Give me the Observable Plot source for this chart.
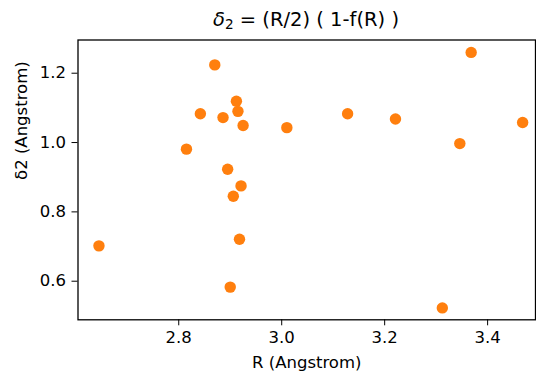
<!DOCTYPE html>
<html>
<head>
<meta charset="utf-8">
<script src="https://cdn.jsdelivr.net/npm/d3@7"></script>
<script src="https://cdn.jsdelivr.net/npm/@observablehq/plot@0.6"></script>
<style>
  html, body { margin: 0; padding: 0; background: #fff; }
  #wrap { position: relative; width: 536px; font-family: "DejaVu Sans", sans-serif; }
  #title { position: relative; height: 35px; width: 536px; }
  #title span { position: absolute; left: 306px; top: 10px; transform: translateX(-50%); font-size: 19.5px; line-height: 1; white-space: nowrap; color: #000; }
  #title i { font-family: "DejaVu Sans", sans-serif; font-style: italic; }
  #title sub { font-size: 0.7em; vertical-align: -0.25em; }
</style>
</head>
<body>
<div id="wrap">
  <div id="title"><span><i>δ</i><sub>2</sub> = (R/2) ( 1-f(R) )</span></div>
  <div id="chart"></div>
</div>
<script>
// Data
const R = [2.645, 2.815, 2.842, 2.870, 2.886, 2.912, 2.915, 2.925, 2.895, 2.921,
           2.906, 2.918, 2.900, 3.010, 3.128, 3.221, 3.368, 3.346, 3.468, 3.312];
const delta2 = [0.702, 0.981, 1.083, 1.224, 1.072, 1.119, 1.090, 1.049, 0.923, 0.875,
                0.845, 0.721, 0.583, 1.043, 1.083, 1.068, 1.260, 0.997, 1.058, 0.523];
const xTicks = [2.8, 3.0, 3.2, 3.4];
const yTicks = [0.6, 0.8, 1.0, 1.2];
const xLabel = "R (Angstrom)";
const yLabel = "δ2 (Angstrom)";

const data = R.map((r, i) => ({R: r, d: delta2[i]}));

const chart = Plot.plot({
  width: 536,
  height: 340,
  marginLeft: 77.5,
  marginRight: 1,
  marginTop: 4.5,
  marginBottom: 55.7,
  style: {fontFamily: "DejaVu Sans, sans-serif", fontSize: "16.5px", color: "#000", background: "#fff"},
  x: {domain: [2.6043, 3.493]},
  y: {domain: [0.4887, 1.2958]},
  marks: [
    Plot.dot(data, {x: "R", y: "d", r: 5.7, fill: "#ff7f0e", stroke: "none"}),
    Plot.frame({stroke: "#000", strokeWidth: 1.3}),
    Plot.axisX({ticks: xTicks, tickFormat: ".1f", tickSize: 6, tickPadding: 5, label: null, fontSize: 16.5}),
    Plot.axisY({ticks: yTicks, tickFormat: ".1f", tickSize: 6, tickPadding: 6, label: null, fontSize: 16.5}),
    Plot.text([xLabel], {frameAnchor: "bottom", text: d => d, dy: 48, fontSize: 16.5}),
    Plot.text([yLabel], {frameAnchor: "left", text: d => d, rotate: -90, dx: -56.5, fontSize: 16.5})
  ]
});
document.getElementById("chart").appendChild(chart);
</script>
</body>
</html>
